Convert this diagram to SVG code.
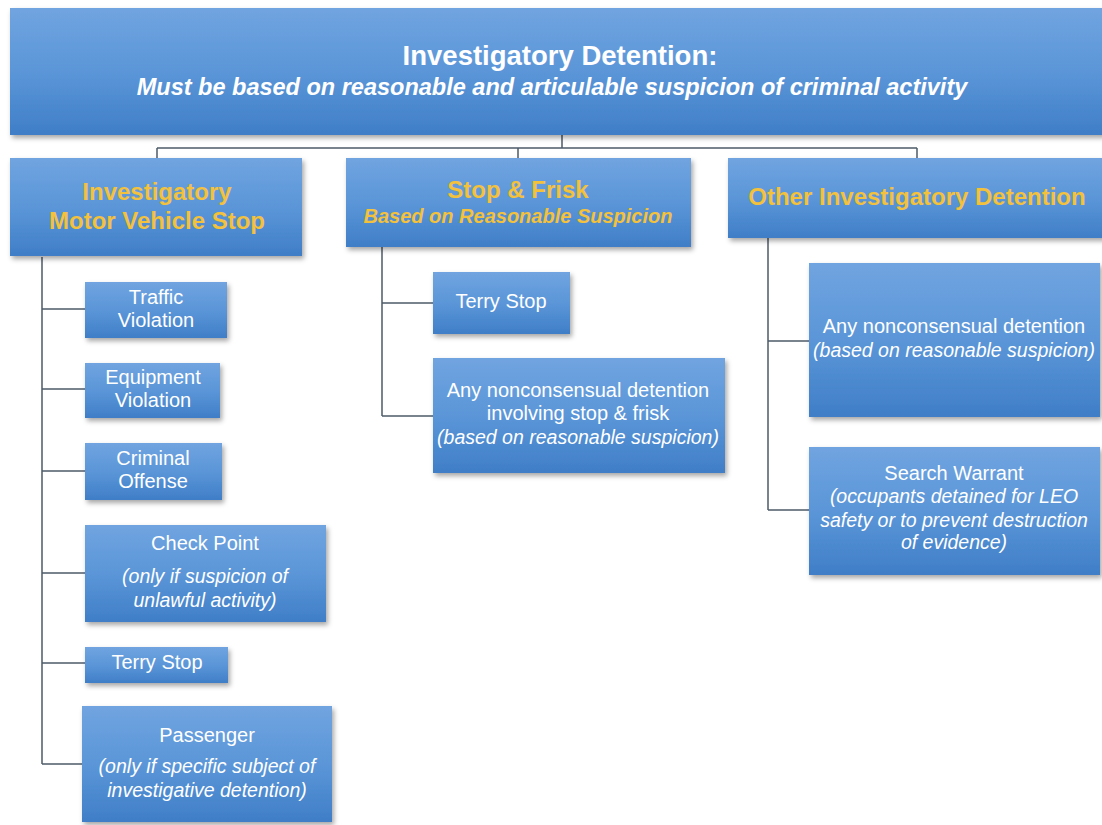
<svg xmlns="http://www.w3.org/2000/svg" width="1102" height="825" viewBox="0 0 1102 825">
<defs>
<linearGradient id="g" x1="0" y1="0" x2="0" y2="1">
<stop offset="0" stop-color="#70A4E0"/>
<stop offset="0.5" stop-color="#5B96D8"/>
<stop offset="1" stop-color="#3F7EC7"/>
</linearGradient>
<filter id="sh" x="-10%" y="-10%" width="120%" height="130%">
<feDropShadow dx="2" dy="3" stdDeviation="2.5" flood-color="#000" flood-opacity="0.35"/>
</filter>
</defs>
<style>
.box{fill:url(#g);filter:url(#sh);}
text{font-family:"Liberation Sans",Arial,sans-serif;text-anchor:middle;fill:#FFFFFF;}
.t{font-size:27.5px;font-weight:bold;}
.ts{font-size:23.5px;font-weight:bold;font-style:italic;}
.h{font-size:24px;font-weight:bold;fill:#F3C13C;}
.hs{font-size:20px;font-weight:bold;font-style:italic;fill:#F3C13C;}
.c{font-size:20px;}
.ci{font-size:19.5px;font-style:italic;}
.conn{fill:none;stroke:#4D5B69;stroke-width:1.5;}
</style>
<rect width="1102" height="825" fill="#FFFFFF"/>
<g id="connectors" class="conn">
<path d="M562 135V148M157 148H917M157 148V158M518 148V158M917 148V158"/>
<path d="M42 257V764M42 309H85M42 389H85M42 471H85M42 573H85M42 663H85M42 764H85"/>
<path d="M382 247V416M382 303H433M382 416H433"/>
<path d="M768 238V510M768 341H809M768 510H809"/>
</g>
<g id="root">
<rect class="box" x="10" y="8" width="1110" height="127"/>
<text class="t" x="560" y="65">Investigatory Detention:</text>
<text class="ts" x="552" y="95">Must be based on reasonable and articulable suspicion of criminal activity</text>
</g>
<g id="mv-stop">
<rect class="box" x="10" y="158" width="292" height="98"/>
<text class="h" x="157" y="200">Investigatory</text>
<text class="h" x="157" y="229">Motor Vehicle Stop</text>
</g>
<g id="stop-frisk">
<rect class="box" x="346" y="158" width="345" height="89"/>
<text class="h" x="518" y="198">Stop &amp; Frisk</text>
<text class="hs" x="518" y="223">Based on Reasonable Suspicion</text>
</g>
<g id="other">
<rect class="box" x="728" y="158" width="390" height="80"/>
<text class="h" x="917" y="205">Other Investigatory Detention</text>
</g>
<g id="traffic">
<rect class="box" x="85" y="282" width="142" height="56"/>
<text class="c" x="156" y="304">Traffic</text>
<text class="c" x="156" y="327">Violation</text>
</g>
<g id="equipment">
<rect class="box" x="85" y="363" width="135" height="55"/>
<text class="c" x="153" y="384">Equipment</text>
<text class="c" x="153" y="407">Violation</text>
</g>
<g id="criminal">
<rect class="box" x="85" y="443" width="137" height="57"/>
<text class="c" x="153" y="465">Criminal</text>
<text class="c" x="153" y="488">Offense</text>
</g>
<g id="checkpoint">
<rect class="box" x="85" y="525" width="241" height="97"/>
<text class="c" x="205" y="550">Check Point</text>
<text class="ci" x="205" y="583">(only if suspicion of</text>
<text class="ci" x="205" y="607">unlawful activity)</text>
</g>
<g id="terry-mv">
<rect class="box" x="85" y="647" width="143" height="36"/>
<text class="c" x="157" y="669">Terry Stop</text>
</g>
<g id="passenger">
<rect class="box" x="82" y="706" width="250" height="116"/>
<text class="c" x="207" y="742">Passenger</text>
<text class="ci" x="207" y="773">(only if specific subject of</text>
<text class="ci" x="207" y="797">investigative detention)</text>
</g>
<g id="terry-sf">
<rect class="box" x="433" y="272" width="137" height="62"/>
<text class="c" x="501" y="308">Terry Stop</text>
</g>
<g id="nonconsensual-sf">
<rect class="box" x="433" y="358" width="292" height="115"/>
<text class="c" x="578" y="397">Any nonconsensual detention</text>
<text class="c" x="578" y="420">involving stop &amp; frisk</text>
<text class="ci" x="578" y="444">(based on reasonable suspicion)</text>
</g>
<g id="nonconsensual-other">
<rect class="box" x="809" y="263" width="291" height="154"/>
<text class="c" x="954" y="333">Any nonconsensual detention</text>
<text class="ci" x="954" y="357">(based on reasonable suspicion)</text>
</g>
<g id="search-warrant">
<rect class="box" x="809" y="447" width="291" height="128"/>
<text class="c" x="954" y="480">Search Warrant</text>
<text class="ci" x="954" y="503">(occupants detained for LEO</text>
<text class="ci" x="954" y="527">safety or to prevent destruction</text>
<text class="ci" x="954" y="549">of evidence)</text>
</g>
</svg>
